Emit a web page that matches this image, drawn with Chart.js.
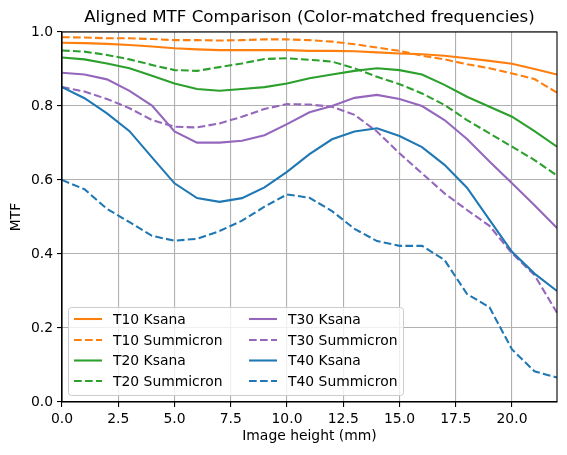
<!DOCTYPE html>
<html><head><meta charset="utf-8">
<script src="https://cdn.jsdelivr.net/npm/chart.js@4"></script>
<style>html,body{margin:0;padding:0;background:#fff;}#wrap{width:567px;height:455px;}</style>
</head><body><div id="wrap"><canvas id="c" width="567" height="455"></canvas></div>
<script>
const imageHeight = [0,1,2,3,4,5,6,7,8,9,10,11,12,13,14,15,16,17,18,19,20,21,22];
const t10Ksana = [0.971,0.970,0.968,0.965,0.961,0.956,0.953,0.951,0.951,0.951,0.951,0.949,0.949,0.948,0.945,0.942,0.940,0.936,0.929,0.922,0.914,0.900,0.885];
const t10Summicron = [0.986,0.985,0.983,0.983,0.981,0.978,0.978,0.977,0.978,0.980,0.980,0.978,0.974,0.967,0.958,0.949,0.936,0.926,0.913,0.902,0.888,0.873,0.836];
const t20Ksana = [0.931,0.926,0.915,0.902,0.882,0.861,0.846,0.841,0.846,0.851,0.861,0.875,0.885,0.895,0.902,0.897,0.885,0.857,0.825,0.798,0.771,0.732,0.690];
const t20Summicron = [0.950,0.947,0.938,0.926,0.911,0.897,0.895,0.905,0.915,0.927,0.929,0.925,0.920,0.902,0.879,0.859,0.834,0.803,0.762,0.726,0.690,0.654,0.612];
const t30Ksana = [0.890,0.885,0.872,0.841,0.801,0.731,0.701,0.701,0.706,0.721,0.751,0.783,0.800,0.822,0.830,0.819,0.800,0.762,0.711,0.650,0.591,0.532,0.470];
const t30Summicron = [0.851,0.839,0.819,0.794,0.762,0.744,0.742,0.753,0.771,0.792,0.805,0.804,0.798,0.776,0.731,0.672,0.618,0.564,0.519,0.476,0.402,0.343,0.241];
const t40Ksana = [0.851,0.821,0.780,0.732,0.661,0.591,0.551,0.541,0.551,0.580,0.622,0.670,0.710,0.731,0.740,0.719,0.689,0.641,0.579,0.492,0.406,0.347,0.300];
const t40Summicron = [0.600,0.575,0.522,0.486,0.449,0.436,0.441,0.462,0.490,0.528,0.561,0.552,0.516,0.468,0.435,0.422,0.422,0.384,0.292,0.256,0.142,0.083,0.066];
const seriesLabels = ['T10 Ksana','T10 Summicron','T20 Ksana','T20 Summicron','T30 Ksana','T30 Summicron','T40 Ksana','T40 Summicron'];
const xTickValues = [0,2.5,5,7.5,10,12.5,15,17.5,20];
const yTickValues = [0,0.2,0.4,0.6,0.8,1.0];
const titleText = 'Aligned MTF Comparison (Color-matched frequencies)';
const xTitle = 'Image height (mm)';
const yTitle = 'MTF';

const allSeries = [t10Ksana,t10Summicron,t20Ksana,t20Summicron,t30Ksana,t30Summicron,t40Ksana,t40Summicron];
const colors = ['#ff7f0e','#ff7f0e','#2ca02c','#2ca02c','#9467bd','#9467bd','#1f77b4','#1f77b4'];
const DASH = [7.7,3.3];
const FONT = "'DejaVu Sans', sans-serif";

const datasets = allSeries.map((s,i)=>({
  label: seriesLabels[i],
  data: s.map((v,j)=>({x:imageHeight[j], y:v})),
  borderColor: colors[i],
  backgroundColor: colors[i],
  borderWidth: 2.08,
  borderDash: (i%2===1)?DASH:[],
  pointRadius: 0,
  tension: 0,
  fill: false,
  order: allSeries.length - i
}));

const extras = {
  id:'extras',
  afterDraw(chart){
    const ctx = chart.ctx, a = chart.chartArea;
    ctx.save();
    // frame
    ctx.strokeStyle='#000'; ctx.lineWidth=1.1;
    ctx.strokeRect(a.left, a.top, a.right-a.left, a.bottom-a.top);
    // title
    ctx.fillStyle='#000'; ctx.font='16.7px '+FONT; ctx.textAlign='center'; ctx.textBaseline='middle';
    ctx.fillText(titleText,(a.left+a.right)/2,18);
    // legend
    const bx=68, by=307, bw=335, bh=88;
    ctx.fillStyle='rgba(255,255,255,0.8)'; ctx.strokeStyle='#cccccc'; ctx.lineWidth=1;
    ctx.beginPath();
    if (ctx.roundRect) ctx.roundRect(bx+0.5,by+0.5,bw,bh,3); else ctx.rect(bx+0.5,by+0.5,bw,bh);
    ctx.fill(); ctx.stroke();
    ctx.font='13.9px '+FONT; ctx.textAlign='left'; ctx.textBaseline='middle';
    const rows=[319,340,360.5,381];
    chart.data.datasets.forEach((d,i)=>{
      const col=Math.floor(i/4), row=i%4;
      const lx = col===0?74:249, tx = col===0?113:288, y=rows[row];
      ctx.strokeStyle=d.borderColor; ctx.lineWidth=2.08; ctx.setLineDash(d.borderDash||[]);
      ctx.beginPath(); ctx.moveTo(lx,y); ctx.lineTo(lx+28,y); ctx.stroke();
      ctx.setLineDash([]);
      ctx.fillStyle='#000'; ctx.fillText(d.label,tx,y+1);
    });
    ctx.restore();
  }
};

new Chart(document.getElementById('c'),{
  type:'line',
  data:{datasets},
  options:{
    responsive:false, animation:false, devicePixelRatio:1,
    layout:{padding:{left:0,right:10,top:32,bottom:0}},
    plugins:{legend:{display:false},tooltip:{enabled:false},title:{display:false}},
    scales:{
      x:{type:'linear',min:0,max:22,
        afterBuildTicks:(s)=>{s.ticks=xTickValues.map(v=>({value:v}));},
        afterFit:(s)=>{s.height=53;},
        grid:{color:'#b0b0b0',lineWidth:1.1,tickColor:'#000',tickLength:5,drawTicks:true},
        border:{color:'#000',width:1.1},
        ticks:{color:'#000',font:{family:FONT,size:13.9},maxRotation:0,padding:4,callback:(v)=>Number(v).toFixed(1)},
        title:{display:true,text:xTitle,color:'#000',font:{family:FONT,size:13.9},padding:{top:0,bottom:10}}
      },
      y:{type:'linear',min:0,max:1,
        afterBuildTicks:(s)=>{s.ticks=yTickValues.map(v=>({value:v}));},
        afterFit:(s)=>{s.width=62;},
        grid:{color:'#b0b0b0',lineWidth:1.1,tickColor:'#000',tickLength:5,drawTicks:true},
        border:{color:'#000',width:1.1},
        ticks:{color:'#000',font:{family:FONT,size:13.9},padding:4,callback:(v)=>Number(v).toFixed(1)},
        title:{display:true,text:yTitle,color:'#000',font:{family:FONT,size:13.9},padding:{top:8,bottom:0}}
      }
    }
  },
  plugins:[extras]
});
</script></body></html>
